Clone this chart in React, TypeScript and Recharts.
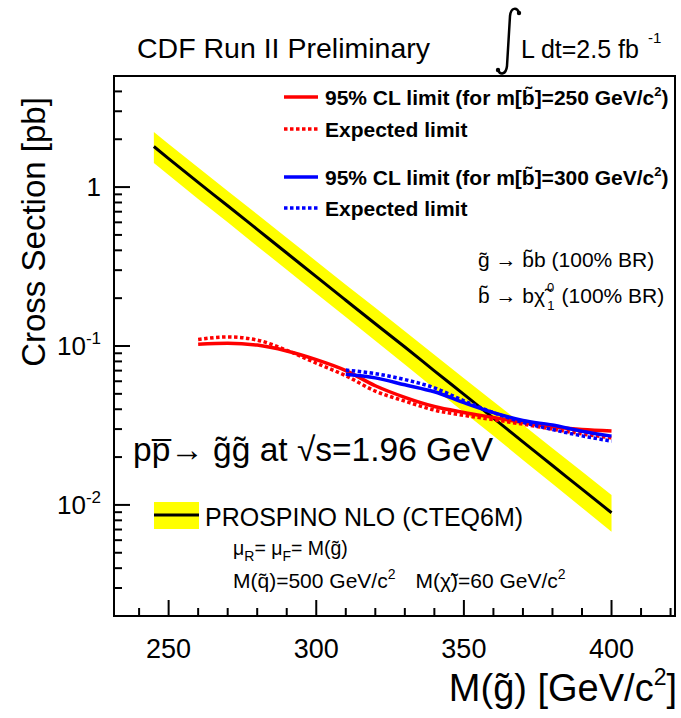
import { Area, ComposedChart, Line, ReferenceArea, XAxis, YAxis } from "recharts";

const FONT = "'Liberation Sans', Arial, Helvetica, sans-serif";

// PROSPINO NLO gluino pair cross section and its uncertainty band
const prospinoMass = [245, 250, 260, 270, 280, 290, 300, 310, 320, 330, 340, 350, 360, 370, 380, 390, 400];
const prospino = [1.8, 1.51, 1.07, 0.763, 0.542, 0.385, 0.273, 0.194, 0.138, 0.0985, 0.0698, 0.0496, 0.0352, 0.0249, 0.0177, 0.01256, 0.00893];
const prospinoHigh = [2.22, 1.87, 1.33, 0.945, 0.675, 0.48, 0.342, 0.243, 0.174, 0.124, 0.088, 0.0627, 0.0448, 0.0319, 0.0227, 0.0162, 0.01154];
const prospinoLow = [1.42, 1.19, 0.84, 0.6, 0.425, 0.302, 0.214, 0.152, 0.108, 0.0765, 0.054, 0.0383, 0.0272, 0.0192, 0.0136, 0.0096, 0.00678];

// limits for m(sbottom) = 250
const limitMass250 = [260, 270, 280, 290, 300, 310, 320, 330, 340, 350, 360, 370, 380, 390, 400];
const observed250 = [0.1025, 0.104, 0.1013, 0.093, 0.082, 0.07, 0.0562, 0.0475, 0.0416, 0.0382, 0.0355, 0.033, 0.031, 0.0298, 0.0292];
const expected250 = [0.11, 0.114, 0.109, 0.094, 0.078, 0.065, 0.052, 0.045, 0.0395, 0.0366, 0.0344, 0.0322, 0.03, 0.028, 0.0264];

// limits for m(sbottom) = 300
const limitMass300 = [310, 320, 330, 340, 350, 360, 370, 380, 390, 400];
const observed300 = [0.0664, 0.063, 0.057, 0.0515, 0.044, 0.0381, 0.034, 0.0318, 0.0291, 0.0271];
const expected300 = [0.0706, 0.067, 0.0615, 0.0545, 0.0452, 0.0381, 0.0331, 0.0298, 0.0272, 0.0252];

const xDomain = [231.5, 421.5];
const yDomain = [0.002, 5];
const xMajorTicks = [250, 300, 350, 400];
const xMinorTicks = [240, 260, 270, 280, 290, 310, 320, 330, 340, 360, 370, 380, 390, 410, 420];
const yMajorTicks = [0.01, 0.1, 1];
const yMajorLabels = [["10", "-2"], ["10", "-1"], ["1", ""]];
const yMinorTicks = [
  0.003, 0.004, 0.005, 0.006, 0.007, 0.008, 0.009,
  0.02, 0.03, 0.04, 0.05, 0.06, 0.07, 0.08, 0.09,
  0.2, 0.3, 0.4, 0.5, 0.6, 0.7, 0.8, 0.9,
  2, 3, 4,
];

const allMasses = Array.from(new Set([...prospinoMass, ...limitMass250, ...limitMass300])).sort((a, b) => a - b);

const rows = allMasses.map((m) => {
  const i = prospinoMass.indexOf(m);
  const j = limitMass250.indexOf(m);
  const k = limitMass300.indexOf(m);
  return {
    m,
    band: i >= 0 ? [prospinoLow[i], prospinoHigh[i]] : undefined,
    nlo: i >= 0 ? prospino[i] : undefined,
    obs250: j >= 0 ? observed250[j] : undefined,
    exp250: j >= 0 ? expected250[j] : undefined,
    obs300: k >= 0 ? observed300[k] : undefined,
    exp300: k >= 0 ? expected300[k] : undefined,
  };
});

const XTick = (props: any) => {
  const { x, y, payload } = props;
  const major = xMajorTicks.includes(payload.value);
  return (
    <g>
      <line x1={x} x2={x} y1={y} y2={y - (major ? 16 : 8)} stroke="#000" strokeWidth={2} />
      {major && (
        <text x={x} y={y + 42} textAnchor="middle" fontSize={27} fontFamily={FONT} fill="#000">
          {payload.value}
        </text>
      )}
    </g>
  );
};

const YTick = (props: any) => {
  const { x, y, payload } = props;
  const idx = yMajorTicks.indexOf(payload.value);
  return (
    <g>
      <line x1={x} x2={x + (idx >= 0 ? 16 : 8)} y1={y} y2={y} stroke="#000" strokeWidth={2} />
      {idx >= 0 && (
        <text x={x - 13} y={y + 9} textAnchor="end" fontSize={26} fontFamily={FONT} fill="#000">
          {yMajorLabels[idx][0]}
          {yMajorLabels[idx][1] && (
            <tspan dy={-11} fontSize={17}>
              {yMajorLabels[idx][1]}
            </tspan>
          )}
        </text>
      )}
    </g>
  );
};

function Annotations() {
  const t = { fontFamily: FONT, fill: "#000" };
  return (
    <svg width={681} height={718} style={{ position: "absolute", left: 0, top: 0, pointerEvents: "none" }}>
      <text x={137} y={58} fontSize={28.5} {...t}>CDF Run II Preliminary</text>
      <path d="M 519 13 C 517 7, 511 7, 510 16 L 507 66 C 506 75, 500 75, 498 70" fill="none" stroke="#000" strokeWidth={2.5} />
      <circle cx={519} cy={13} r={2.2} fill="#000" />
      <circle cx={498} cy={70} r={2.2} fill="#000" />
      <text x={521} y={58} fontSize={25} {...t}>
        L dt=2.5 fb
        <tspan dx={9} dy={-15} fontSize={15}>-1</tspan>
      </text>

      <line x1={284} x2={318} y1={97} y2={97} stroke="#ff0000" strokeWidth={3.5} />
      <text x={325} y={105} fontSize={21} fontWeight="bold" {...t}>
        95% CL limit (for m[b̃]=250 GeV/c<tspan dy={-9} fontSize={13}>2</tspan>
        <tspan dy={9}>)</tspan>
      </text>
      <line x1={284} x2={318} y1={129} y2={129} stroke="#ff0000" strokeWidth={3.5} strokeDasharray="3.5 2.5" />
      <text x={325} y={137} fontSize={21} fontWeight="bold" {...t}>Expected limit</text>
      <line x1={284} x2={318} y1={177} y2={177} stroke="#0000ff" strokeWidth={3.5} />
      <text x={325} y={185} fontSize={21} fontWeight="bold" {...t}>
        95% CL limit (for m[b̃]=300 GeV/c<tspan dy={-9} fontSize={13}>2</tspan>
        <tspan dy={9}>)</tspan>
      </text>
      <line x1={284} x2={318} y1={208} y2={208} stroke="#0000ff" strokeWidth={3.5} strokeDasharray="3.5 2.5" />
      <text x={325} y={216} fontSize={21} fontWeight="bold" {...t}>Expected limit</text>

      <text x={478} y={267} fontSize={21} {...t}>g̃ → b̃b (100% BR)</text>
      <text x={478} y={303} fontSize={21} {...t}>
        b̃ → bχ̃
        <tspan dx={2} dy={-11} fontSize={13}>0</tspan>
        <tspan dx={-7} dy={18} fontSize={13}>1</tspan>
        <tspan dx={7} dy={-7}>(100% BR)</tspan>
      </text>

      <text x={133} y={461} fontSize={33.5} {...t}>pp̅→ g̃g̃ at √s=1.96 GeV</text>

      <rect x={154} y={502} width={45} height={27} fill="#ffff00" />
      <line x1={154} x2={199} y1={515} y2={515} stroke="#000" strokeWidth={3} />
      <text x={205} y={526} fontSize={25} {...t}>PROSPINO NLO (CTEQ6M)</text>
      <text x={233} y={555} fontSize={19.5} {...t}>
        μ<tspan dy={6} fontSize={14}>R</tspan>
        <tspan dy={-6}>= μ</tspan>
        <tspan dy={6} fontSize={14}>F</tspan>
        <tspan dy={-6}>= M(g̃)</tspan>
      </text>
      <text x={233} y={588} fontSize={21} {...t}>
        M(q̃)=500 GeV/c<tspan dy={-9} fontSize={14}>2</tspan>
        <tspan dx={20} dy={9}>M(χ̃)=60 GeV/c</tspan>
        <tspan dy={-9} fontSize={14}>2</tspan>
      </text>

      <text transform="translate(45 232) rotate(-90)" textAnchor="middle" fontSize={33} {...t}>
        Cross Section [pb]
      </text>
      <text x={677} y={701} textAnchor="end" fontSize={38} {...t}>
        M(g̃) [GeV/c<tspan dy={-16} fontSize={23}>2</tspan>
        <tspan dy={16}>]</tspan>
      </text>
    </svg>
  );
}

export default function App() {
  return (
    <div style={{ position: "absolute", left: 0, top: 0, width: 681, height: 718, background: "#fff" }}>
      <ComposedChart width={681} height={718} data={rows} margin={{ top: 76, right: 6, bottom: 0, left: 0 }}>
        <XAxis
          dataKey="m"
          type="number"
          domain={xDomain}
          allowDataOverflow
          ticks={[...xMajorTicks, ...xMinorTicks].sort((a, b) => a - b)}
          interval={0}
          tickSize={0}
          tickMargin={0}
          tickLine={false}
          tick={XTick}
          height={102}
          axisLine={{ stroke: "#000", strokeWidth: 2 }}
        />
        <YAxis
          type="number"
          scale="log"
          domain={yDomain}
          allowDataOverflow
          ticks={[...yMinorTicks, ...yMajorTicks].sort((a, b) => a - b)}
          interval={0}
          tickSize={0}
          tickMargin={0}
          tickLine={false}
          tick={YTick}
          width={114}
          axisLine={{ stroke: "#000", strokeWidth: 2 }}
        />
        <Area dataKey="band" type="linear" fill="#ffff00" fillOpacity={1} stroke="none" isAnimationActive={false} />
        <Line dataKey="nlo" type="monotone" stroke="#000" strokeWidth={3} dot={false} isAnimationActive={false} />
        <Line dataKey="obs250" type="monotone" stroke="#ff0000" strokeWidth={3.5} dot={false} isAnimationActive={false} />
        <Line dataKey="exp250" type="monotone" stroke="#ff0000" strokeWidth={3.5} strokeDasharray="3.5 2.5" dot={false} isAnimationActive={false} />
        <Line dataKey="obs300" type="monotone" stroke="#0000ff" strokeWidth={3.5} dot={false} isAnimationActive={false} />
        <Line dataKey="exp300" type="monotone" stroke="#0000ff" strokeWidth={3.5} strokeDasharray="3.5 2.5" dot={false} isAnimationActive={false} />
        <ReferenceArea
          x1={xDomain[0]}
          x2={xDomain[1]}
          y1={yDomain[0]}
          y2={yDomain[1]}
          fill="none"
          stroke="#000"
          strokeWidth={2}
          ifOverflow="visible"
        />
      </ComposedChart>
      <Annotations />
    </div>
  );
}
